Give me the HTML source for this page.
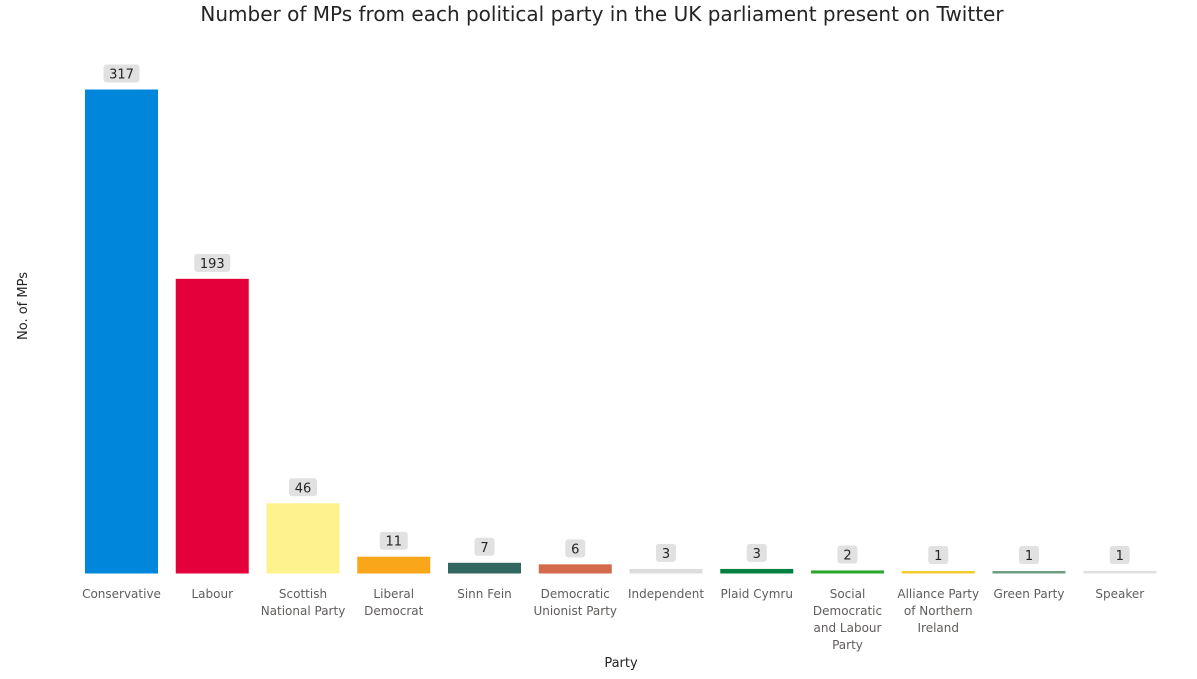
<!DOCTYPE html>
<html><head><meta charset="utf-8"><style>
body{margin:0;background:#fff;font-family:"Liberation Sans","DejaVu Sans",sans-serif;}
svg text{font-family:"DejaVu Sans","Liberation Sans",sans-serif;}
</style></head><body>
<svg id="c" width="1197" height="674">
<text x="602" y="21" text-anchor="middle" font-size="20" fill="#252423">Number of MPs from each political party in the UK parliament present on Twitter</text>
<text transform="translate(27,306) rotate(-90)" text-anchor="middle" font-size="13" fill="#252423">No. of MPs</text>
<text x="621" y="667" text-anchor="middle" font-size="13" fill="#252423">Party</text>
<g id="bars"></g>
</svg>
<script>
const categories=[["Conservative"],["Labour"],["Scottish","National Party"],["Liberal","Democrat"],["Sinn Fein"],["Democratic","Unionist Party"],["Independent"],["Plaid Cymru"],["Social","Democratic","and Labour","Party"],["Alliance Party","of Northern","Ireland"],["Green Party"],["Speaker"]];
const values=[317,193,46,11,7,6,3,3,2,1,1,1];
const colors=["#0087dc","#e4003b","#fdf38e","#faa61a","#326760","#d46a4c","#dddddd","#008142","#2aa82c","#f6cb2f","#6ab023","#e0e0e0"];
colors[10]="#6d9e7f";
const NS="http://www.w3.org/2000/svg";
const base=573.5,scale=484/317,x0=85,pitch=90.75,bw=73;
const y=v=>base-Math.max(v*scale,2.5);
const g=document.getElementById('bars');
function mk(t,a){const e=document.createElementNS(NS,t);for(const k in a)e.setAttribute(k,a[k]);return e;}
values.forEach((v,i)=>{
 const x=x0+i*pitch,cx=x+bw/2,top=y(v);
 const r=mk('rect',{x:x,y:top,width:bw,height:base-top,fill:colors[i]});
 
 
 g.appendChild(r);
 const s=String(v),w=s.length*8+12;
 const b=mk('rect',{x:cx-w/2,y:top-25,width:w,height:18,rx:3,fill:"#e1e1e1"});
 
 
 g.appendChild(b);
 const t=mk('text',{x:cx,y:top-11,'text-anchor':'middle','font-size':13,fill:'#252423'});
 t.textContent=s;
 
 
 g.appendChild(t);
 categories[i].forEach((ln,j)=>{
  const l=mk('text',{x:cx,y:598+j*17,'text-anchor':'middle','font-size':12,fill:'#605e5c'});
  l.textContent=ln;
  
  
  g.appendChild(l);
 });
});
</script>
</body></html>
